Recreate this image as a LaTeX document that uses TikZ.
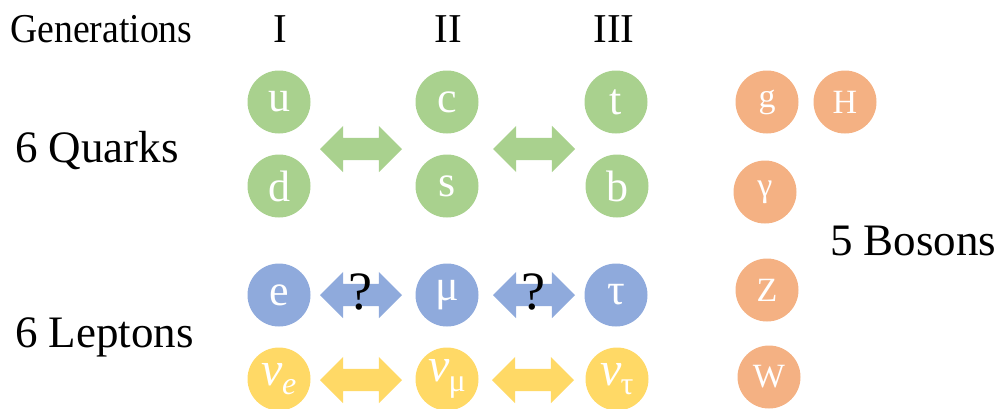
\documentclass[tikz,border=0pt]{standalone}
\usepackage{fontspec}
\setmainfont{Liberation Serif}
\usetikzlibrary{shapes.arrows}
\definecolor{qgreen}{HTML}{A9D18E}
\definecolor{lblue}{HTML}{8FAADC}
\definecolor{nyellow}{HTML}{FFD966}
\definecolor{borange}{HTML}{F4B183}
\tikzset{
  particle/.style={circle, minimum size=63pt, inner sep=0pt, text=white, font=\fontsize{44}{44}\selectfont},
  quark/.style={particle, fill=qgreen},
  lepton/.style={particle, fill=lblue},
  neutrino/.style={particle, fill=nyellow},
  boson/.style={particle, fill=borange, font=\fontsize{34}{34}\selectfont},
  darrow/.style={double arrow, minimum height=82pt, minimum width=46pt, inner xsep=0pt, inner ysep=11pt, double arrow head extend=12pt, draw=none},
  biglabel/.style={anchor=base west, inner sep=0pt, font=\fontsize{45}{45}\selectfont},
  genlabel/.style={anchor=base, inner sep=0pt, font=\fontsize{41}{41}\selectfont},
  qmark/.style={inner sep=0pt, font=\fontsize{54}{54}\selectfont}
}
\newcommand{\nusym}[1]{\fontsize{48}{48}\selectfont{\itshape ν}\kern-1pt\raisebox{-0.2em}{\fontsize{32}{32}\selectfont #1}}
\begin{document}
\begin{tikzpicture}[x=1pt,y=-1pt]
\useasboundingbox (0,0) rectangle (1001,408);
% headers
\node[anchor=base west, inner sep=0pt, font=\fontsize{41}{41}\selectfont] (gen) at (10,42) {\scalebox{0.92}[1]{Generations}};
\node[genlabel] (g1) at (280,42) {I};
\node[genlabel] (g2) at (448,42) {II};
\node[genlabel] (g3) at (614,42) {III};
% side labels
\node[biglabel] (quarks) at (15,162) {6 Quarks};
\node[biglabel] (leptons) at (15,347) {6 Leptons};
\node[biglabel] (bosons) at (830,255) {5 Bosons};
% quarks
\node[quark] (u) at (279,102) {u};
\node[quark] (d) at (279,186) {d};
\node[quark] (c) at (447,102) {c};
\node[quark] (s) at (447,186) {s};
\node[quark] (t) at (616,102) {t};
\node[quark] (b) at (617,186) {b};
% leptons
\node[lepton] (e) at (279,295) {e};
\node[lepton] (mu) at (447,295) {μ};
\node[lepton] (tau) at (616,295) {τ};
\node[neutrino] (nue) at (279,379) {\nusym{\itshape e}};
\node[neutrino] (numu) at (447,379) {\nusym{μ}};
\node[neutrino] (nutau) at (617,379) {\nusym{τ}};
% bosons
\node[boson] (g) at (767,102) {g};
\node[boson] (H) at (845,102) {H};
\node[boson] (gamma) at (765,192) {γ};
\node[boson] (Z) at (767,290) {Z};
\node[boson] (W) at (769,377) {W};
% arrows
\node[darrow, fill=qgreen] (qa1) at (361,149) {};
\node[darrow, fill=qgreen] (qa2) at (534,149) {};
\node[darrow, fill=lblue] (la1) at (361,295) {};
\node[darrow, fill=lblue] (la2) at (534,295) {};
\node[darrow, fill=nyellow] (na1) at (361,380) {};
\node[darrow, fill=nyellow] (na2) at (533,380) {};
\node[qmark] (q1) at (360,292) {?};
\node[qmark] (q2) at (533,292) {?};
\end{tikzpicture}
\end{document}
